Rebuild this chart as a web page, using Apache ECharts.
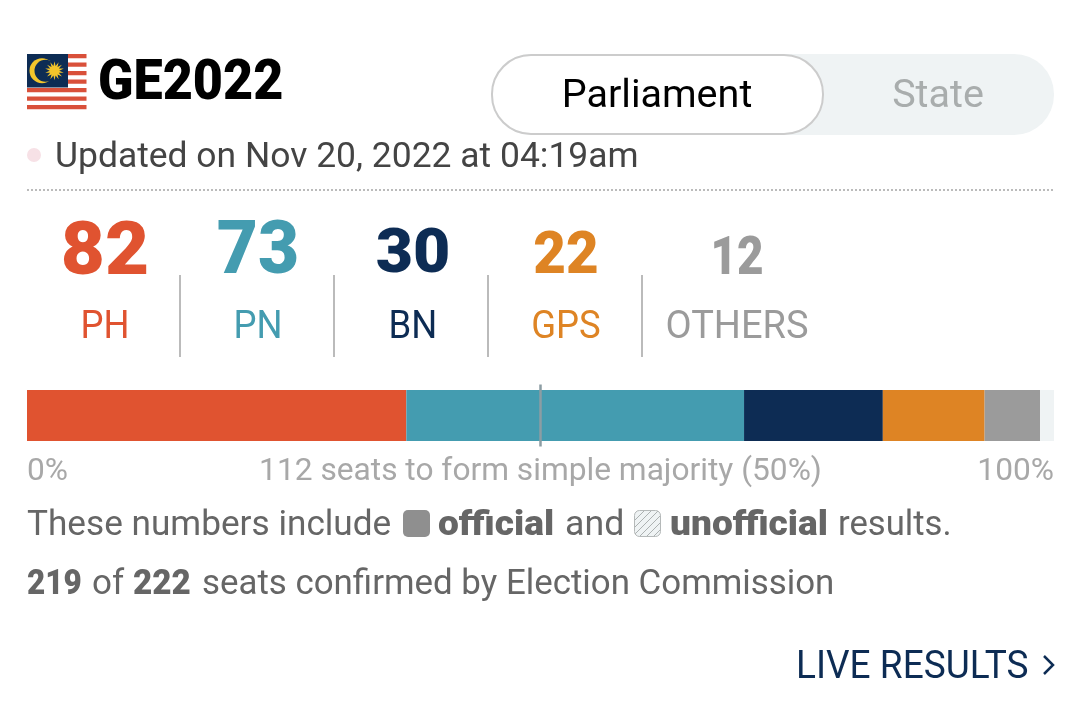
<!DOCTYPE html>
<html>
<head>
<meta charset="utf-8">
<title>GE2022</title>
<style>
html, body { margin: 0; padding: 0; background: #fff; }
#chart { width: 1080px; height: 714px; }
</style>
<script src="https://cdn.jsdelivr.net/npm/echarts@6/dist/echarts.min.js"></script>
</head>
<body>
<div id="chart"></div>
<script>
var parties = ['PH', 'PN', 'BN', 'GPS', 'OTHERS'];
var seats = [82, 73, 30, 22, 12];
var unconfirmed = 3;
var totalSeats = 222;
var majorityMark = 111;
var tickValues = [0, 111, 222];
var tickLabels = ['0%', '112 seats to form simple majority (50%)', '100%'];

var partyColors = ['#e05330', '#449cb0', '#0d2c54', '#de8424', '#9b9b9b'];
var partyFont = [74, 74, 62, 60, 54];
var partyScale = [1.03, 0.96, 1.04, 0.94, 0.85];
var partyNameScale = [0.96, 0.96, 0.96, 0.96, 1.0];
var partyX = [105, 258, 413, 566, 737];
var partyY = [255, 254, 256, 258, 260];
var FONT = 'Roboto, sans-serif';

var myChart = echarts.init(document.getElementById('chart'));

function txt(x, y, text, size, color, opts) {
    opts = opts || {};
    return {
        type: 'text', x: x, y: y, scaleX: opts.sx || 1,
        style: {
            text: text, fontFamily: FONT, fontSize: size, fill: color,
            fontWeight: opts.weight || 'normal',
            align: opts.align || 'left', verticalAlign: 'middle'
        }
    };
}

// sun of the flag
function sunPoints(cx, cy, r1, r2, n) {
    var pts = [];
    for (var i = 0; i < n * 2; i++) {
        var r = i % 2 ? r2 : r1;
        var a = Math.PI * i / n - Math.PI / 2;
        pts.push([cx + r * Math.cos(a), cy + r * Math.sin(a)]);
    }
    return pts;
}

function hatch() {
    var c = document.createElement('canvas');
    c.width = 7; c.height = 7;
    var g = c.getContext('2d');
    g.fillStyle = '#eff3f4';
    g.fillRect(0, 0, 7, 7);
    g.strokeStyle = '#9aa0a0';
    g.lineWidth = 0.8;
    g.beginPath();
    g.moveTo(-1, 8); g.lineTo(8, -1);
    g.moveTo(-1, 1); g.lineTo(1, -1);
    g.moveTo(6, 8); g.lineTo(8, 6);
    g.stroke();
    return c;
}

var graphics = [];

// flag
for (var s = 0; s < 7; s++) {
    graphics.push({ type: 'rect', shape: { x: 27, y: 54 + s * 8.5, width: 59.5, height: 4.2 }, style: { fill: '#d9503a' } });
}
graphics.push({ type: 'rect', shape: { x: 27, y: 54, width: 41, height: 33.5 }, style: { fill: '#0d2c54' } });
graphics.push({ type: 'circle', shape: { cx: 42, cy: 70.7, r: 12.5 }, style: { fill: '#f3c52b' } });
graphics.push({ type: 'circle', shape: { cx: 45.5, cy: 70.7, r: 11 }, style: { fill: '#0d2c54' } });
graphics.push({ type: 'polygon', shape: { points: sunPoints(54.5, 70.7, 9.5, 4.8, 14) }, style: { fill: '#f3c52b' } });

graphics.push(txt(98, 85, 'GE2022', 56, '#000', { weight: 900, sx: 0.93 }));

// toggle
graphics.push({ type: 'rect', shape: { x: 491, y: 54, width: 563, height: 81, r: 40 }, style: { fill: '#eff3f4' } });
graphics.push({ type: 'rect', shape: { x: 492, y: 55, width: 331, height: 79, r: 39 }, style: { fill: '#fff', stroke: '#cccccc', lineWidth: 2 } });
graphics.push(txt(657, 97, 'Parliament', 39.5, '#000', { align: 'center' }));
graphics.push(txt(938, 97, 'State', 39.5, '#a9adad', { align: 'center' }));

// update line
graphics.push({ type: 'circle', shape: { cx: 34, cy: 155, r: 7 }, style: { fill: '#f7e1e6' } });
graphics.push(txt(55, 158, 'Updated on Nov 20, 2022 at 04:19am', 35, '#444444', { sx: 1.013 }));
graphics.push({ type: 'line', shape: { x1: 27, y1: 190, x2: 1054, y2: 190 }, style: { stroke: '#bbbbbb', lineWidth: 2, lineDash: [2, 2] } });

// party tallies
parties.forEach(function(name, i) {
    graphics.push(txt(partyX[i], partyY[i], String(seats[i]), partyFont[i], partyColors[i], { weight: 900, align: 'center', sx: partyScale[i] }));
    graphics.push(txt(partyX[i], 328, name, 38, partyColors[i], { align: 'center', sx: partyNameScale[i] }));
});
[180, 334, 488, 642].forEach(function(x) {
    graphics.push({ type: 'line', shape: { x1: x, y1: 275, x2: x, y2: 357 }, style: { stroke: '#bbbbbb', lineWidth: 2 } });
});

// notes
graphics.push(txt(27, 526, 'These numbers include', 35, '#666666', { sx: 1.005 }));
graphics.push({ type: 'rect', shape: { x: 403, y: 510, width: 27, height: 27, r: 5 }, style: { fill: '#8f8f8f' } });
graphics.push(txt(438, 526, 'official', 35, '#666666', { weight: 900, sx: 1.06 }));
graphics.push(txt(565, 526, 'and', 35, '#666666', { sx: 1.02 }));
graphics.push({ type: 'rect', shape: { x: 634.5, y: 510.5, width: 26, height: 26, r: 5 }, style: { fill: { image: hatch(), repeat: 'repeat' }, stroke: '#b5b9b9', lineWidth: 1 } });
graphics.push(txt(670, 526, 'unofficial', 35, '#666666', { weight: 900, sx: 1.06 }));
graphics.push(txt(838, 526, 'results.', 35, '#666666', { sx: 0.99 }));

graphics.push(txt(27, 585, '219', 35, '#666666', { weight: 900, sx: 0.9 }));
graphics.push(txt(92, 585, 'of', 35, '#666666'));
graphics.push(txt(133, 585, '222', 35, '#666666', { weight: 900, sx: 0.95 }));
graphics.push(txt(202, 585, 'seats confirmed by Election Commission', 35, '#666666', { sx: 0.996 }));

graphics.push(txt(796, 668, 'LIVE RESULTS', 38, '#0d2c54', { sx: 0.975 }));
graphics.push({ type: 'polyline', shape: { points: [[1044, 656], [1053, 665], [1044, 674]] }, style: { fill: 'none', stroke: '#0d2c54', lineWidth: 2.5 } });

var series = parties.map(function(name, i) {
    return {
        name: name, type: 'bar', stack: 'seats', barWidth: 51,
        itemStyle: { color: partyColors[i] },
        data: [seats[i]]
    };
});
series.push({
    name: 'Unconfirmed', type: 'bar', stack: 'seats', barWidth: 51,
    itemStyle: { color: '#eff3f4' },
    data: [unconfirmed]
});
series.push({
    name: 'Majority', type: 'scatter', symbol: 'rect', symbolSize: [2.5, 62],
    itemStyle: { color: '#8c9da3', opacity: 1 },
    z: 5,
    data: [[majorityMark, 'Seats']]
});

var option = {
    animation: false,
    backgroundColor: '#fff',
    textStyle: { fontFamily: FONT },
    grid: { left: 27, right: 26, top: 390, height: 51, containLabel: false },
    xAxis: {
        type: 'value', min: 0, max: totalSeats,
        splitLine: { show: false },
        axisLine: { show: false },
        axisTick: { show: false },
        axisLabel: {
            customValues: tickValues,
            alignMinLabel: 'left',
            alignMaxLabel: 'right',
            fontSize: 31.7, color: '#a8a8a8', margin: 15, fontFamily: FONT,
            formatter: function(v) { return tickLabels[tickValues.indexOf(v)]; }
        }
    },
    yAxis: { type: 'category', data: ['Seats'], show: false },
    series: series,
    graphic: graphics
};

myChart.setOption(option);
</script>
</body>
</html>
